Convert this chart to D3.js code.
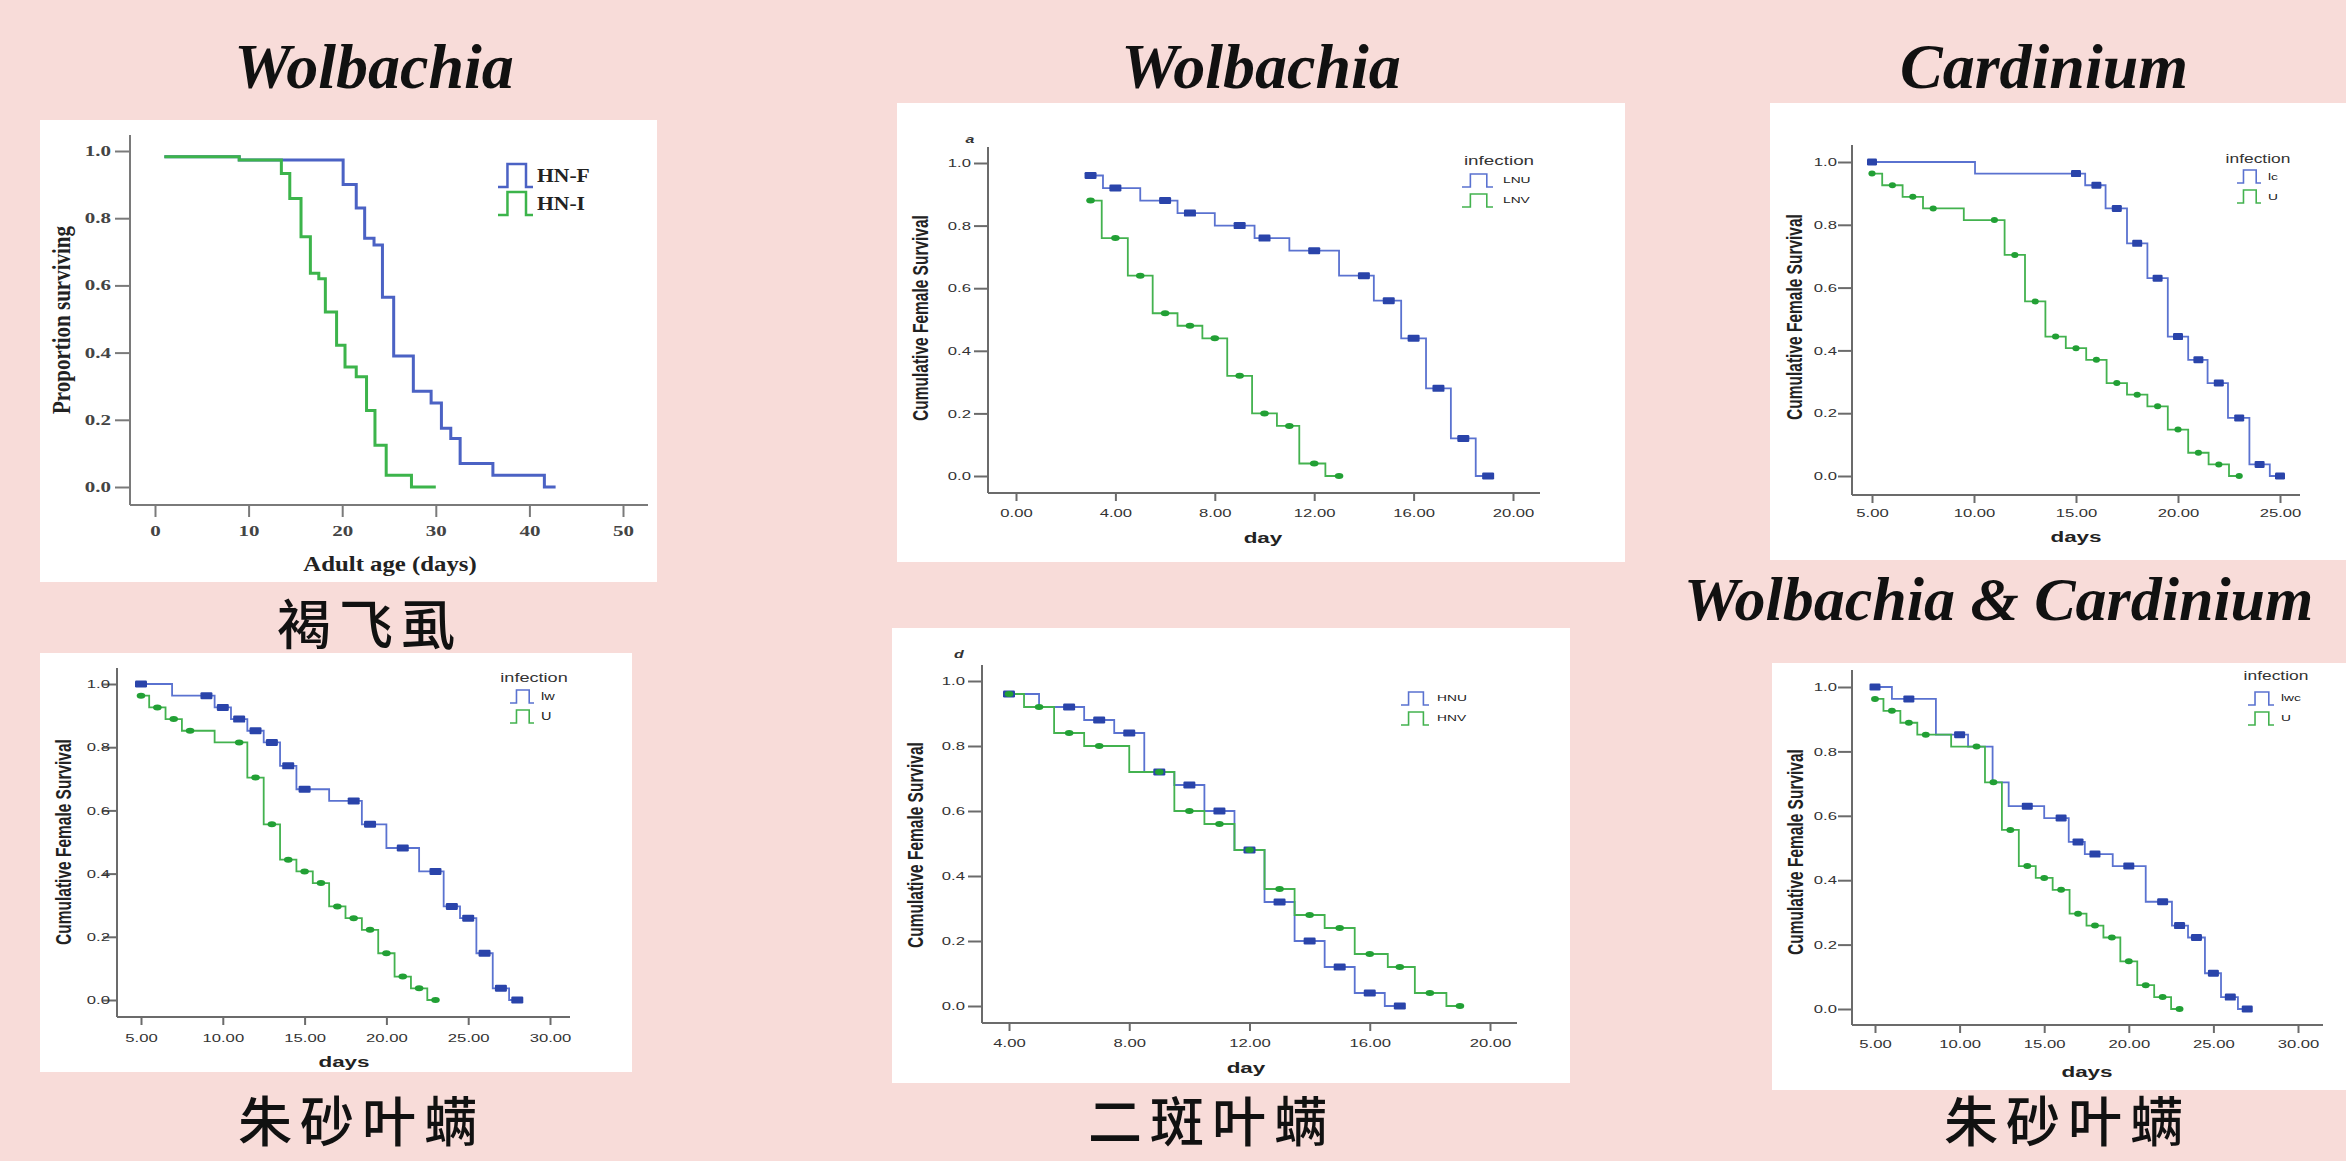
<!DOCTYPE html>
<html>
<head>
<meta charset="utf-8">
<script src="https://cdn.jsdelivr.net/npm/d3@7"></script>
<style>
  html, body { margin: 0; padding: 0; background: #f8dcd9; overflow: hidden; }
  svg { display: block; }
</style>
</head>
<body>
<svg id="fig" width="2346" height="1161"></svg>
<script>
// ---------------- data ----------------
// Section headings and species captions
const headingsTop = ["Wolbachia", "Wolbachia", "Cardinium"];
const headingBoth = "Wolbachia & Cardinium";
const speciesNames = ["褐飞虱", "朱砂叶螨", "二斑叶螨", "朱砂叶螨"];

// Shared tick values
const survivalTicks = [0, 0.2, 0.4, 0.6, 0.8, 1.0];
const ageTicks = [0, 10, 20, 30, 40, 50];
const dayTicksA = [0, 4, 8, 12, 16, 20];
const dayTicksD = [4, 8, 12, 16, 20];
const dayTicks25 = [5, 10, 15, 20, 25];
const dayTicks30 = [5, 10, 15, 20, 25, 30];

// Each survival series: [day, proportion] where the curve steps to that proportion
// Brown planthopper (HN-F / HN-I)
const hnF = [[1, 0.983], [9, 0.973], [20.1, 0.90], [21.5, 0.83], [22.4, 0.74], [23.4, 0.72],
  [24.3, 0.565], [25.5, 0.39], [27.6, 0.285], [29.5, 0.25], [30.6, 0.175], [31.6, 0.144],
  [32.6, 0.07], [36.1, 0.035], [41.6, 0]];
const hnFEnd = 42.8;
const hnI = [[1, 0.983], [9, 0.973], [13.5, 0.933], [14.4, 0.859], [15.6, 0.745], [16.6, 0.636],
  [17.5, 0.62], [18.2, 0.521], [19.4, 0.422], [20.3, 0.357], [21.5, 0.328], [22.6, 0.228],
  [23.5, 0.124], [24.7, 0.035], [27.4, 0]];
const hnIEnd = 30;

// Spider mite, panel a (LNU / LNV)
const lnu = [[3, 0.96], [3.5, 0.92], [5.0, 0.88], [6.5, 0.84], [8.0, 0.80], [9.6, 0.76], [11.0, 0.72],
  [13.0, 0.64], [14.4, 0.56], [15.5, 0.44], [16.5, 0.28], [17.5, 0.12], [18.5, 0]];
const lnuEnd = 19;
const lnuMarks = [3, 4, 6, 7, 9, 10, 12, 14, 15, 16, 17, 18, 19];
const lnv = [[3, 0.88], [3.45, 0.76], [4.5, 0.64], [5.5, 0.52], [6.5, 0.48], [7.5, 0.44], [8.5, 0.32],
  [9.5, 0.20], [10.5, 0.16], [11.4, 0.04], [12.45, 0]];
const lnvEnd = 13;
const lnvMarks = [3, 4, 5, 6, 7, 8, 9, 10, 11, 12, 13];

// Uninfected reference line (U), shared by the Cardinium / Wolbachia comparisons
const uninf = [[5, 0.963], [5.5, 0.926], [6.5, 0.889], [7.5, 0.852], [9.5, 0.815], [11.5, 0.704],
  [12.5, 0.556], [13.5, 0.444], [14.5, 0.407], [15.5, 0.370], [16.5, 0.296], [17.5, 0.259],
  [18.5, 0.222], [19.5, 0.148], [20.5, 0.074], [21.5, 0.037], [22.5, 0]];
const uninfEnd = 23;
const uninfMarks = [5, 6, 7, 8, 11, 12, 13, 14, 15, 16, 17, 18, 19, 20, 21, 22, 23];

// Cardinium-infected (lc)
const lc = [[5, 1.0], [10.05, 0.963], [15.45, 0.926], [16.45, 0.852], [17.5, 0.741], [18.5, 0.630],
  [19.5, 0.444], [20.5, 0.370], [21.45, 0.296], [22.45, 0.185], [23.5, 0.037], [24.5, 0]];
const lcEnd = 25;
const lcMarks = [5, 15, 16, 17, 18, 19, 20, 21, 22, 23, 24, 25];

// Wolbachia-infected (lw)
const lw = [[5, 1.0], [6.9, 0.963], [9.5, 0.926], [10.5, 0.889], [11.5, 0.852], [12.5, 0.815],
  [13.5, 0.741], [14.5, 0.667], [16.5, 0.630], [18.5, 0.556], [20.0, 0.481], [22.0, 0.407],
  [23.5, 0.296], [24.5, 0.259], [25.5, 0.148], [26.5, 0.037], [27.5, 0]];
const lwEnd = 28;
const lwMarks = [5, 9, 10, 11, 12, 13, 14, 15, 18, 19, 21, 23, 24, 25, 26, 27, 28];

// Two-spotted spider mite, panel d (HNU / HNV)
const hnu = [[4, 0.96], [5.0, 0.92], [6.5, 0.88], [7.5, 0.84], [8.5, 0.72], [9.5, 0.68], [10.5, 0.60],
  [11.5, 0.48], [12.5, 0.32], [13.5, 0.20], [14.5, 0.12], [15.5, 0.04], [16.5, 0]];
const hnuEnd = 17;
const hnuMarks = [4, 6, 7, 8, 9, 10, 11, 12, 13, 14, 15, 16, 17];
const hnv = [[4, 0.96], [4.5, 0.92], [5.5, 0.84], [6.5, 0.80], [8.0, 0.72], [9.5, 0.60], [10.5, 0.56],
  [11.5, 0.48], [12.5, 0.36], [13.5, 0.28], [14.5, 0.24], [15.5, 0.16], [16.6, 0.12], [17.5, 0.04], [18.55, 0]];
const hnvEnd = 19;
const hnvMarks = [4, 5, 6, 7, 9, 10, 11, 12, 13, 14, 15, 16, 17, 18, 19];

// Double infection (lwc)
const lwc = [[5, 1.0], [6.0, 0.963], [8.6, 0.852], [10.5, 0.815], [11.95, 0.704], [12.9, 0.630],
  [15.0, 0.593], [16.45, 0.519], [17.4, 0.481], [19.05, 0.444], [21.0, 0.333], [22.55, 0.259],
  [23.5, 0.222], [24.5, 0.111], [25.45, 0.037], [26.45, 0]];
const lwcEnd = 27;
const lwcMarks = [5, 7, 10, 14, 16, 17, 18, 20, 22, 23, 24, 25, 26, 27];

// ---------------- drawing ----------------
const svg = d3.select("#fig");
const PINK = "#f8dcd9";
svg.append("rect").attr("width", 2346).attr("height", 1161).attr("fill", PINK);

const SERIF = "'Liberation Serif', 'Times New Roman', serif";
const SANS = "'Liberation Sans', Arial, sans-serif";
const CJK = "'Noto Sans CJK SC', sans-serif";

function scaledText(g, x, y, str, s, opt) {
  const t = g.append("text")
    .attr("transform", `translate(${x},${y}) scale(${s},1)` + (opt.rotate ? " rotate(-90)" : ""))
    .attr("text-anchor", opt.anchor || "middle")
    .attr("font-family", opt.family)
    .attr("font-size", opt.size)
    .attr("font-weight", opt.weight || "normal")
    .attr("font-style", opt.style || "normal")
    .attr("fill", opt.fill || "#222")
    .text(str);
  if (opt.baseline) t.attr("dominant-baseline", opt.baseline);
  return t;
}

function drawPanel(c) {
  const g = svg.append("g");
  g.append("rect").attr("x", c.box[0]).attr("y", c.box[1])
    .attr("width", c.box[2] - c.box[0]).attr("height", c.box[3] - c.box[1]).attr("fill", "#fff");

  const x = d3.scaleLinear().domain(c.xDomain).range(c.xRange);
  const y = d3.scaleLinear().domain([0, 1]).range(c.yRange);
  const fam = c.serif ? SERIF : SANS;
  const tw = c.serif ? "bold" : "normal";

  // axis lines
  g.append("line").attr("x1", c.yAxisX).attr("x2", c.yAxisX).attr("y1", c.yTop).attr("y2", c.xAxisY)
    .attr("stroke", c.axisColor).attr("stroke-width", 2);
  g.append("line").attr("x1", c.yAxisX).attr("x2", c.xRight).attr("y1", c.xAxisY).attr("y2", c.xAxisY)
    .attr("stroke", c.axisColor).attr("stroke-width", 2);

  // y axis ticks and labels
  const ya = g.append("g").attr("transform", `translate(${c.yAxisX},0)`)
    .call(d3.axisLeft(y).tickValues(survivalTicks).tickFormat(d3.format(".1f"))
      .tickSize(c.yTickLen).tickSizeOuter(0));
  ya.select(".domain").remove();
  ya.selectAll(".tick line").attr("stroke", c.axisColor).attr("stroke-width", 2);
  ya.selectAll(".tick text")
    .attr("x", -(c.yAxisX - c.yLabelEnd) / c.textScale)
    .attr("transform", `scale(${c.textScale},1)`)
    .attr("font-family", fam).attr("font-size", c.tickSize).attr("font-weight", tw)
    .attr("fill", c.tickColor);

  // x axis ticks and labels
  const xa = g.append("g").attr("transform", `translate(0,${c.xAxisY})`)
    .call(d3.axisBottom(x).tickValues(c.xTicks).tickFormat(d3.format(c.xFmt))
      .tickSize(c.xTickLen).tickSizeOuter(0));
  xa.select(".domain").remove();
  xa.selectAll(".tick line").attr("stroke", c.axisColor).attr("stroke-width", 2);
  xa.selectAll(".tick text")
    .attr("y", c.xLabelBase - c.xAxisY).attr("dy", 0)
    .attr("transform", `scale(${c.textScale},1)`)
    .attr("font-family", fam).attr("font-size", c.tickSize).attr("font-weight", tw)
    .attr("fill", c.tickColor);

  // axis titles
  scaledText(g, c.yTitle[0], c.yTitle[1], c.yTitleText, c.titleScale,
    { family: fam, size: c.titleSize, weight: "bold", rotate: true, baseline: "central", fill: "#222" });
  scaledText(g, c.xTitle[0], c.xTitle[1], c.xTitleText, c.titleScale,
    { family: fam, size: c.titleSize, weight: "bold", fill: "#222" });

  if (c.corner) {
    scaledText(g, c.corner[0], c.corner[1], c.corner[2], c.textScale,
      { family: SANS, size: 11, weight: "bold", style: "italic", fill: "#333" });
  }

  // survival step curves
  const line = d3.line().x(d => x(d[0])).y(d => y(d[1])).curve(d3.curveStepAfter);
  c.series.forEach(s => {
    const pts = s.steps.concat([[s.end, s.steps[s.steps.length - 1][1]]]);
    g.append("path").attr("d", line(pts)).attr("fill", "none")
      .attr("stroke", s.color).attr("stroke-width", c.lineWidth).attr("stroke-linejoin", "miter");
  });

  // censor markers, placed on the curve
  const bis = d3.bisector(d => d[0]).right;
  c.series.forEach(s => {
    if (!s.marks) return;
    const valueAt = day => s.steps[Math.max(0, bis(s.steps, day) - 1)][1];
    s.marks.forEach(day => {
      const cx = x(day), cy = y(valueAt(day));
      if (s.shape === "rect") {
        g.append("rect").attr("x", cx - c.markW / 2).attr("y", cy - 3.5)
          .attr("width", c.markW).attr("height", 7).attr("rx", 1.2)
          .attr("fill", s.markColor);
      } else {
        g.append("ellipse").attr("cx", cx).attr("cy", cy)
          .attr("rx", c.markW * 0.36).attr("ry", 3)
          .attr("fill", s.markColor);
      }
    });
  });

  // legend
  const L = c.legend;
  if (L.title) {
    scaledText(g, L.title[0], L.title[1], "infection", c.textScale,
      { family: SANS, size: L.titleSize, fill: "#333" });
  }
  c.series.forEach((s, i) => {
    const x0 = L.symX[0], x1 = L.symX[1], w = x1 - x0;
    const yb = L.symBottom[i], h = L.symH;
    const p = d3.path();
    p.moveTo(x0, yb); p.lineTo(x0 + w * 0.27, yb); p.lineTo(x0 + w * 0.27, yb - h);
    p.lineTo(x0 + w * 0.8, yb - h); p.lineTo(x0 + w * 0.8, yb); p.lineTo(x1, yb);
    g.append("path").attr("d", p.toString()).attr("fill", "none")
      .attr("stroke", s.color).attr("stroke-width", L.symStroke);
    scaledText(g, L.textX, L.textBase[i], s.name, L.textScale || c.textScale,
      { family: c.serif ? SERIF : SANS, size: L.textSize, weight: c.serif ? "bold" : "normal",
        anchor: "start", fill: "#222" });
  });
}

const BLUE_L = "#5a72d0", GREEN_L = "#43b24f";
const BLUE_M = "#2a44aa", GREEN_M = "#22a035";

const spss = {
  serif: false, axisColor: "#6b6b6b", tickColor: "#333", tickSize: 11.5, textScale: 1.45,
  titleSize: 15.5, titleScale: 1.45, yTickLen: 14, xTickLen: 8, lineWidth: 1.8, markW: 12,
  yTitleText: "Cumulative Female Survival"
};

// Brown planthopper
drawPanel({
  serif: true, axisColor: "#7a7a7a", tickColor: "#444", tickSize: 14, textScale: 1.5,
  titleSize: 21, titleScale: 1.18, yTickLen: 15, xTickLen: 12, lineWidth: 3,
  box: [40, 120, 657, 582], xDomain: [0, 50], xRange: [155, 623], yRange: [487, 151],
  yAxisX: 130, yTop: 135, xAxisY: 505, xRight: 648,
  yLabelEnd: 111, xLabelBase: 536, xTicks: ageTicks, xFmt: "d",
  yTitle: [62, 320], yTitleText: "Proportion surviving",
  xTitle: [390, 571], xTitleText: "Adult age (days)",
  legend: { symX: [498, 533], symBottom: [187, 215], symH: 23, symStroke: 2.5,
    textX: 537, textBase: [182, 210], textSize: 18, textScale: 1.2 },
  series: [
    { name: "HN-F", steps: hnF, end: hnFEnd, color: "#4b62c4" },
    { name: "HN-I", steps: hnI, end: hnIEnd, color: "#3cb44b" }
  ]
});

// Panel a: LNU / LNV
drawPanel(Object.assign({}, spss, {
  box: [897, 103, 1625, 562], xDomain: [0, 20], xRange: [1016, 1513], yRange: [476, 163],
  yAxisX: 988, yTop: 147, xAxisY: 493, xRight: 1540,
  yLabelEnd: 971, xLabelBase: 517, xTicks: dayTicksA, xFmt: ".2f",
  yTitle: [920, 318], xTitle: [1263, 543], xTitleText: "day",
  corner: [970, 143, "a"],
  legend: { title: [1499, 165], titleSize: 13, symX: [1462, 1493], symBottom: [187, 207], symH: 13,
    symStroke: 1.6, textX: 1503, textBase: [183, 203], textSize: 9.5 },
  series: [
    { name: "LNU", steps: lnu, end: lnuEnd, marks: lnuMarks, shape: "rect", color: BLUE_L, markColor: BLUE_M },
    { name: "LNV", steps: lnv, end: lnvEnd, marks: lnvMarks, shape: "dot", color: GREEN_L, markColor: GREEN_M }
  ]
}));

// Cardinium: lc / U
drawPanel(Object.assign({}, spss, {
  markW: 10,
  box: [1770, 103, 2346, 560], xDomain: [5, 25], xRange: [1872, 2280], yRange: [476, 162],
  yAxisX: 1852, yTop: 145, xAxisY: 495, xRight: 2300,
  yLabelEnd: 1837, xLabelBase: 517, xTicks: dayTicks25, xFmt: ".2f",
  yTitle: [1794, 317], xTitle: [2076, 542], xTitleText: "days",
  legend: { title: [2258, 163], titleSize: 12, symX: [2237, 2261], symBottom: [183, 203], symH: 13,
    symStroke: 1.6, textX: 2268, textBase: [180, 200], textSize: 9.5 },
  series: [
    { name: "lc", steps: lc, end: lcEnd, marks: lcMarks, shape: "rect", color: BLUE_L, markColor: BLUE_M },
    { name: "U", steps: uninf, end: uninfEnd, marks: uninfMarks, shape: "dot", color: GREEN_L, markColor: GREEN_M }
  ]
}));

// Wolbachia: lw / U
drawPanel(Object.assign({}, spss, {
  box: [40, 653, 632, 1072], xDomain: [5, 30], xRange: [141, 550], yRange: [1000, 684],
  yAxisX: 117, yTop: 668, xAxisY: 1017, xRight: 570,
  yLabelEnd: 110, xLabelBase: 1042, xTicks: dayTicks30, xFmt: ".2f",
  yTitle: [63, 842], xTitle: [344, 1067], xTitleText: "days",
  legend: { title: [534, 682], titleSize: 12.5, symX: [510, 534], symBottom: [703, 723], symH: 13,
    symStroke: 1.6, textX: 541, textBase: [700, 720], textSize: 10 },
  series: [
    { name: "lw", steps: lw, end: lwEnd, marks: lwMarks, shape: "rect", color: BLUE_L, markColor: BLUE_M },
    { name: "U", steps: uninf, end: uninfEnd, marks: uninfMarks, shape: "dot", color: GREEN_L, markColor: GREEN_M }
  ]
}));

// Panel d: HNU / HNV
drawPanel(Object.assign({}, spss, {
  box: [892, 628, 1570, 1083], xDomain: [4, 20], xRange: [1009, 1490], yRange: [1006, 681],
  yAxisX: 982, yTop: 665, xAxisY: 1023, xRight: 1517,
  yLabelEnd: 965, xLabelBase: 1047, xTicks: dayTicksD, xFmt: ".2f",
  yTitle: [915, 845], xTitle: [1246, 1073], xTitleText: "day",
  corner: [959, 658, "d"],
  legend: { symX: [1401, 1429], symBottom: [705, 725], symH: 13,
    symStroke: 1.6, textX: 1437, textBase: [701, 721], textSize: 9.5 },
  series: [
    { name: "HNU", steps: hnu, end: hnuEnd, marks: hnuMarks, shape: "rect", color: BLUE_L, markColor: BLUE_M },
    { name: "HNV", steps: hnv, end: hnvEnd, marks: hnvMarks, shape: "dot", color: GREEN_L, markColor: GREEN_M }
  ]
}));

// Double infection: lwc / U
drawPanel(Object.assign({}, spss, {
  markW: 11,
  box: [1772, 663, 2346, 1090], xDomain: [5, 30], xRange: [1875, 2298], yRange: [1009, 687],
  yAxisX: 1852, yTop: 670, xAxisY: 1025, xRight: 2323,
  yLabelEnd: 1837, xLabelBase: 1048, xTicks: dayTicks30, xFmt: ".2f",
  yTitle: [1795, 852], xTitle: [2087, 1077], xTitleText: "days",
  legend: { title: [2276, 680], titleSize: 12, symX: [2248, 2274], symBottom: [705, 725], symH: 13,
    symStroke: 1.6, textX: 2281, textBase: [701, 721], textSize: 9.5 },
  series: [
    { name: "lwc", steps: lwc, end: lwcEnd, marks: lwcMarks, shape: "rect", color: BLUE_L, markColor: BLUE_M },
    { name: "U", steps: uninf, end: uninfEnd, marks: uninfMarks, shape: "dot", color: GREEN_L, markColor: GREEN_M }
  ]
}));

// ---------------- headings ----------------
const hx = [374, 1261, 2044];
headingsTop.forEach((t, i) => {
  svg.append("text").attr("x", hx[i]).attr("y", 88).attr("text-anchor", "middle")
    .attr("font-family", SERIF).attr("font-size", 64).attr("font-weight", "bold")
    .attr("font-style", "italic").attr("fill", "#111").text(t);
});
svg.append("text").attr("x", 1684).attr("y", 620).attr("text-anchor", "start")
  .attr("font-family", SERIF).attr("font-size", 62).attr("font-weight", "bold")
  .attr("font-style", "italic").attr("fill", "#111").text(headingBoth);

const sp = [[370, 621], [362, 1118], [1212, 1118], [2068, 1118]];
speciesNames.forEach((t, i) => {
  svg.append("text").attr("x", sp[i][0]).attr("y", sp[i][1]).attr("text-anchor", "middle")
    .attr("dominant-baseline", "central")
    .attr("font-family", CJK).attr("font-size", 54).attr("font-weight", 500)
    .attr("letter-spacing", 8).attr("fill", "#111").text(t);
});
</script>
</body>
</html>
